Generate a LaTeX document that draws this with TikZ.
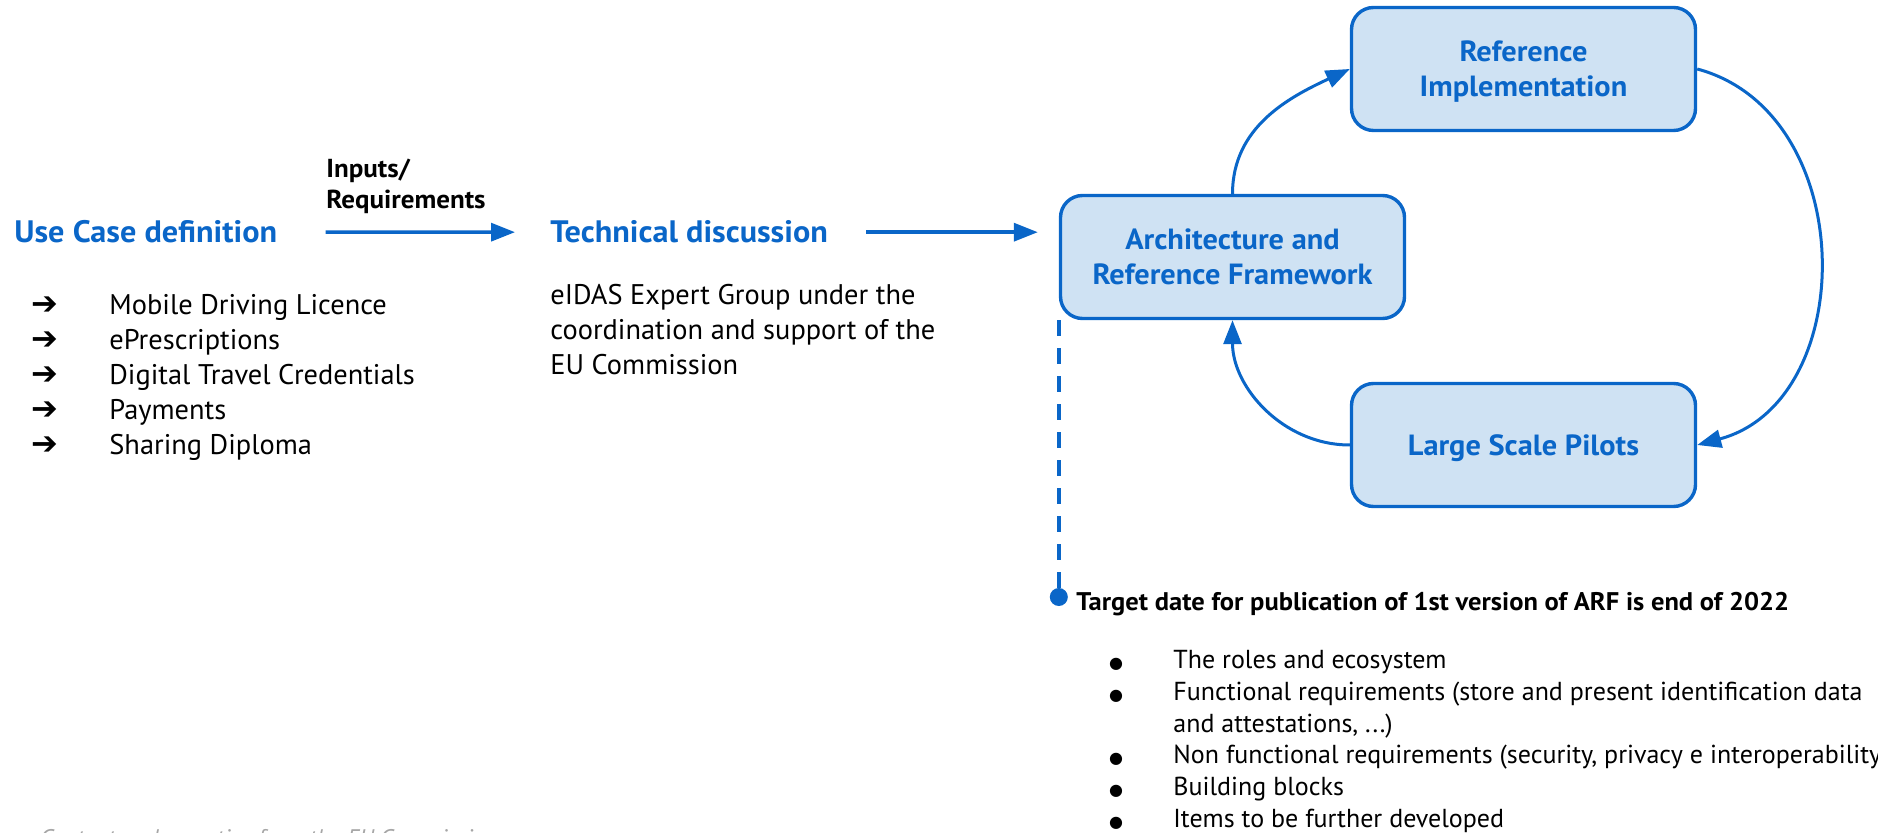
\documentclass[tikz,border=0pt]{standalone}
\usepackage{fontspec}
\setmainfont[BoldFeatures={FakeStretch=1.04}]{PT Sans}
\newfontfamily\glyphfont{DejaVu Sans}
\usetikzlibrary{arrows.meta,positioning}

\definecolor{eublue}{HTML}{0A66C8}
\definecolor{eufill}{HTML}{CFE2F3}
\definecolor{creditgray}{HTML}{A6A6A6}

\tikzset{
  heading/.style={inner sep=0pt, anchor=base west, text=eublue,
    font=\fontsize{15.5pt}{18pt}\selectfont\bfseries},
  bodytext/.style={inner sep=0pt, anchor=base west, align=left,
    font=\fontsize{14.2pt}{17.5pt}\selectfont},
  smalltext/.style={inner sep=0pt, anchor=base west, align=left,
    font=\fontsize{13pt}{16pt}\selectfont},
  stagebox/.style={draw=eublue, line width=1.7pt, fill=eufill,
    rounded corners=11pt, minimum width=172pt, minimum height=61.5pt,
    align=center, text=eublue, text depth=0pt,
    font=\fontsize{14.6pt}{17.5pt}\selectfont\bfseries},
  flow/.style={eublue, line width=1.7pt, -{Triangle[length=12pt,width=9pt]}},
  cycleflow/.style={eublue, line width=1.5pt, -{Triangle[length=12pt,width=9pt]}},
}

\begin{document}
\begin{tikzpicture}[x=0.5pt,y=0.5pt]
  % canvas counted in pixels, y runs down as negative
  \useasboundingbox (0,0) rectangle (1878,-833);
  \clip (0,0) rectangle (1878,-833);

  % left column: use cases
  \node[heading] (usecase) at (14,-243) {Use Case definition};
  \foreach \casename [count=\i from 0] in {Mobile Driving Licence, ePrescriptions,
      Digital Travel Credentials, Payments, Sharing Diploma} {
    \node[inner sep=0pt, anchor=base, font=\glyphfont\fontsize{16pt}{17pt}\selectfont]
      (casearrow\i) at (45,-315-35*\i) {➔};
    \node[bodytext] (case\i) at (109,-315-35*\i) {\casename};
  }

  % middle column
  \node[inner sep=0pt, anchor=south west, align=left,
        font=\fontsize{13pt}{15.5pt}\selectfont\bfseries]
    (inputs) at (326,-214) {Inputs/\\Requirements};
  \node[heading] (techdisc) at (550,-243) {Technical discussion};
  % base of a multi-line node = its last line
  \node[bodytext] (expert) at (550,-375)
    {eIDAS Expert Group under the\\coordination and support of the\\EU Commission};

  \draw[flow, shorten <=24pt, shorten >=17.5pt] (usecase) -- (techdisc);

  % the ARF cycle
  \node[stagebox] (arch) at (1232.5,-257) {Architecture and\\Reference Framework};
  \node[stagebox] (refimpl) at (1523.5,-69) {Reference\\Implementation};
  \node[stagebox] (pilots) at (1523.5,-445) {Large Scale Pilots};

  \draw[flow, shorten <=19pt, shorten >=10.5pt]
    (techdisc.east) -- (techdisc.east -| arch.west);
  \draw[cycleflow] (arch.north) to[out=90,in=205] (refimpl.west);
  \draw[cycleflow] (refimpl.east) to[out=-15,in=15,looseness=1.15] (pilots.east);
  \draw[cycleflow] (pilots.west) to[out=180,in=-90] (arch.south);

  % milestone
  \node[circle, fill=eublue, inner sep=0pt, minimum size=9pt]
    (milestone) at (arch.south west |- 0,-597) {};
  \draw[eublue, line width=1.8pt, dash pattern=on 8pt off 6pt]
    (arch.south west) -- (milestone);
  \node[smalltext, font=\fontsize{12.75pt}{16pt}\selectfont\bfseries]
    (target) at (1076,-610)
    {Target date for publication of 1st version of ARF is end of 2022};

  % contents of the ARF (y of first line / extra lines)
  \foreach \y/\more/\topic in {668/0/{The roles and ecosystem},
      700/1/{Functional requirements (store and present identification data\\and attestations, ...)},
      763/0/{Non functional requirements (security, privacy e interoperability)},
      795/0/{Building blocks},
      827/0/{Items to be further developed}} {
    \node[inner sep=0pt, anchor=base, font=\glyphfont\fontsize{8pt}{8pt}\selectfont]
      (dot\y) at (1116,-\y) {●};
    \node[smalltext] (topic\y) at (1173,-\y-32*\more) {\topic};
  }

  % source note, cut by the page edge
  \node[inner sep=0pt, anchor=base west, text=creditgray,
        font=\fontsize{12pt}{16pt}\selectfont\itshape]
    (credit) at (40,-846) {Content and narrative from the EU Commission};
\end{tikzpicture}
\end{document}
